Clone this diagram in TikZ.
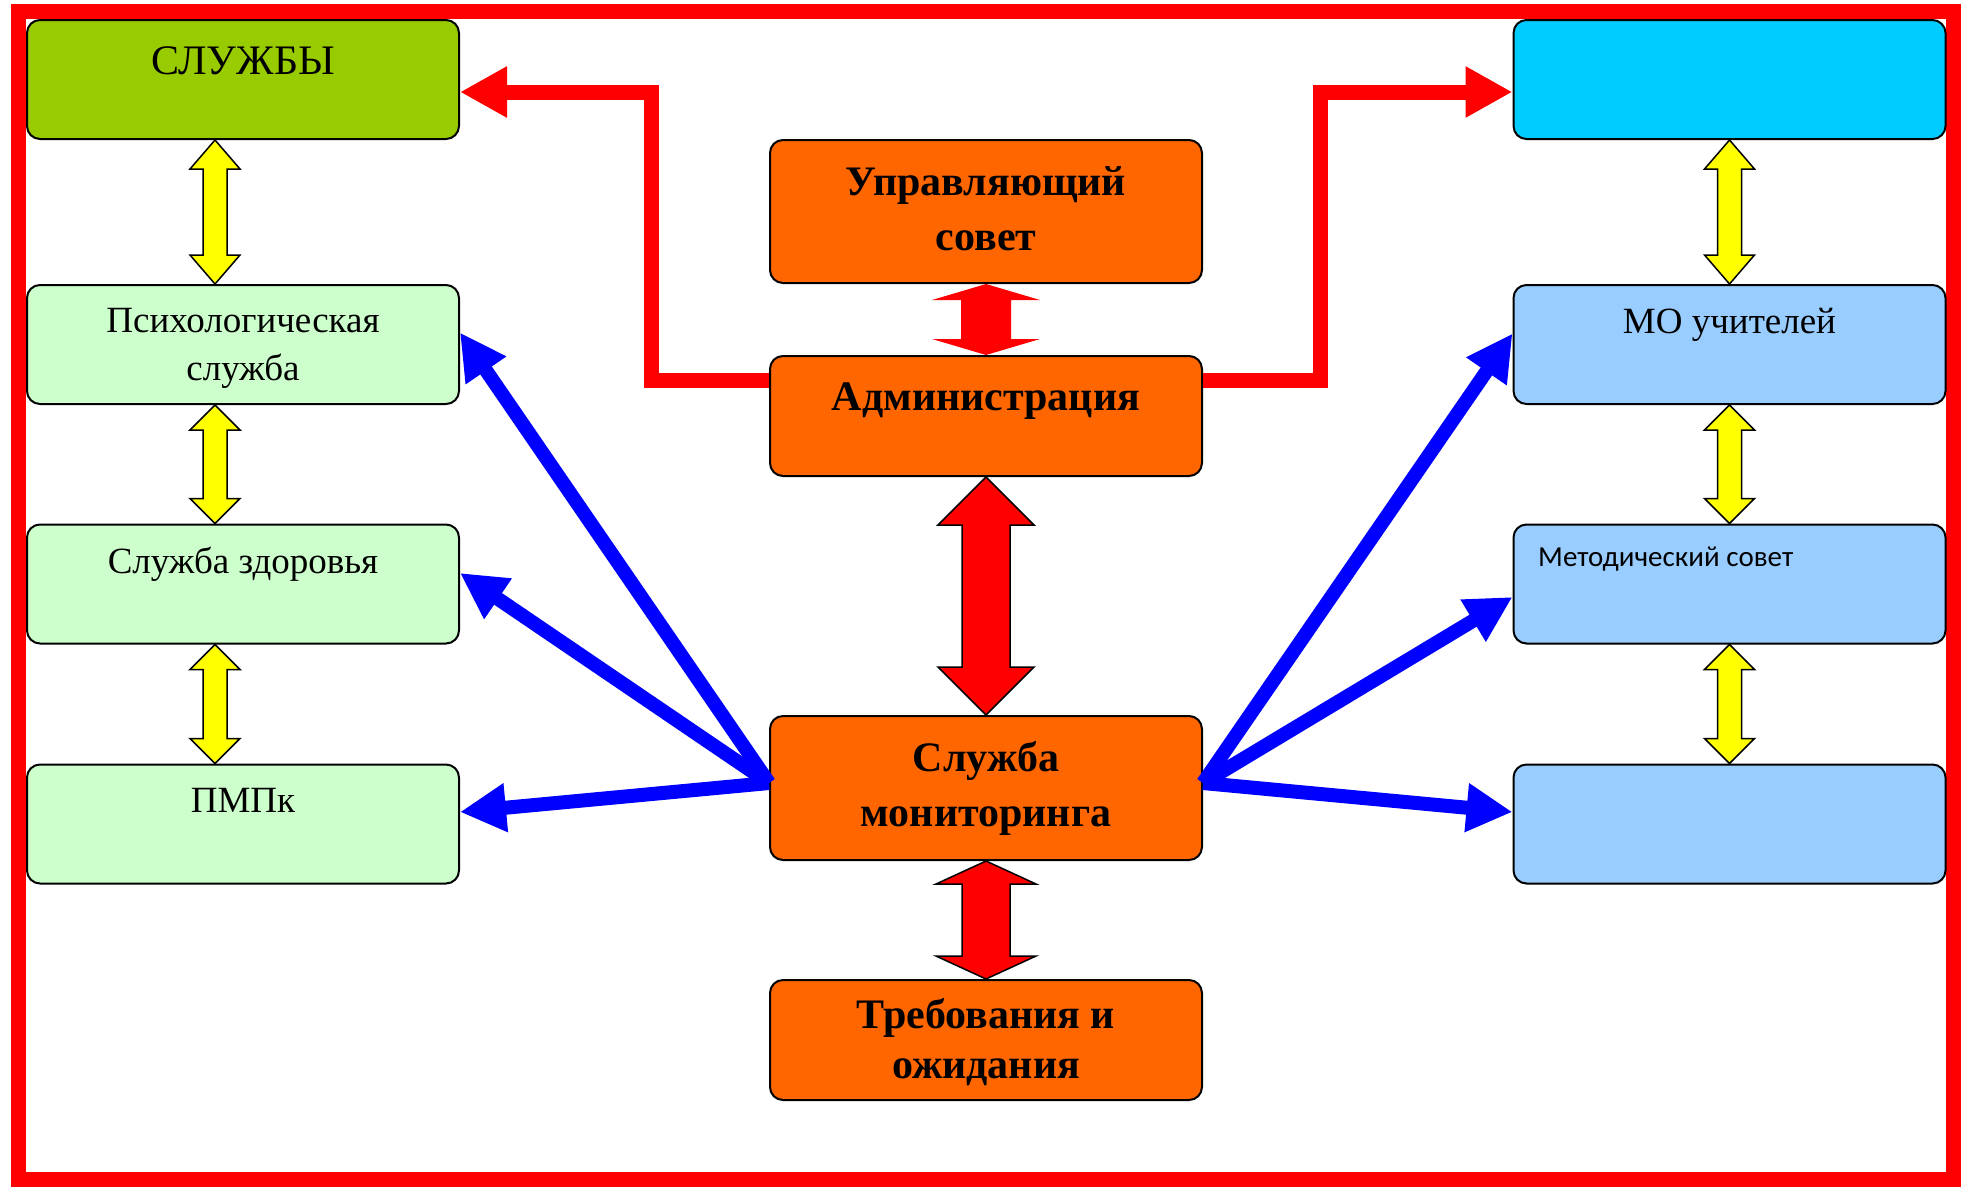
\documentclass[tikz,border=0pt]{standalone}
\usepackage{fontspec}
\setmainfont{Liberation Serif}
\newfontfamily\calibri{Carlito}
\usetikzlibrary{arrows.meta,calc}
\definecolor{cgreen}{HTML}{99CC00}
\definecolor{clgreen}{HTML}{CCFFCC}
\definecolor{ccyan}{HTML}{00CCFF}
\definecolor{clblue}{HTML}{99CCFF}
\definecolor{corange}{HTML}{FF6600}
\definecolor{cred}{HTML}{FF0000}
\definecolor{cblue}{HTML}{0000FF}
\definecolor{cyellow}{HTML}{FFFF00}
\newcommand\twolines[2]{\begin{tabular}[t]{@{}c@{}}#1\\#2\end{tabular}}
\newcommand\vdarrow[6]{%
 \path[#1] let \p1=#2, \p2=#3 in
 (\x1,\y1) -- (\x1+#4pt,\y1-#6pt) -- (\x1+#5pt,\y1-#6pt) -- (\x1+#5pt,\y2+#6pt) -- (\x1+#4pt,\y2+#6pt) -- (\x1,\y2) -- (\x1-#4pt,\y2+#6pt) -- (\x1-#5pt,\y2+#6pt) -- (\x1-#5pt,\y1-#6pt) -- (\x1-#4pt,\y1-#6pt) -- cycle;}
\tikzset{
 box/.style={draw=black, line width=2pt, rounded corners=13pt, minimum width=432pt, inner sep=0pt},
 sidebox/.style={box, minimum height=119pt},
 midbox/.style={box, fill=corange},
 reg/.style={inner sep=0pt, font=\fontsize{37}{48}\selectfont},
 big/.style={inner sep=0pt, font=\fontsize{42}{50}\selectfont},
 bld/.style={inner sep=0pt, font=\bfseries\fontsize{42}{55}\selectfont},
 outerframe/.style={draw=cred, line width=15pt},
 redconn/.style={draw=cred, line width=15pt, line join=miter, -{Triangle[length=47pt,width=48pt]}},
 bluearr/.style={draw=cblue, line width=14pt, -{Triangle[length=46pt,width=46pt]}},
 yel/.style={fill=cyellow, draw=black, line width=1.5pt},
 redA/.style={fill=cred},
 redB/.style={fill=cred, draw=black, line width=1.5pt}
}
\begin{document}
\begin{tikzpicture}[x=1pt,y=-1pt]
\useasboundingbox (0,0) rectangle (1961,1187);
\draw[outerframe] (18.5,11.5) rectangle (1953,1179.5);

% left column
\node[sidebox, fill=cgreen] (sl) at (243,79.5) {};
\node[sidebox, fill=clgreen] (ps) at (243,344.5) {};
\node[sidebox, fill=clgreen] (zd) at (243,584) {};
\node[sidebox, fill=clgreen] (pm) at (243,824) {};
% right column
\node[sidebox, fill=ccyan] (cy) at (1729.5,79.5) {};
\node[sidebox, fill=clblue] (mou) at (1729.5,344.5) {};
\node[sidebox, fill=clblue] (mt) at (1729.5,584) {};
\node[sidebox, fill=clblue] (em) at (1729.5,824) {};
% centre column
\node[midbox, minimum height=143pt] (upr) at (986,211.5) {};
\node[midbox, minimum height=120pt] (ad) at (986,416) {};
\node[midbox, minimum height=144pt] (mon) at (986,788) {};
\node[midbox, minimum height=120pt] (tr) at (986,1040) {};

% texts
\node[big, anchor=base] (slT) at (243,74) {СЛУЖБЫ};
\node[reg, anchor=base] (psT) at (243,332) {\twolines{Психологическая}{служба}};
\node[reg, anchor=base] (zdT) at (243,573) {Служба здоровья};
\node[reg, anchor=base] (pmT) at (243,812) {ПМПк};
\node[reg, anchor=base] (mouT) at (1729.5,333) {МО учителей};
\node[inner sep=0pt, anchor=base west, font=\calibri\fontsize{29}{35}\selectfont] (mtT) at (1538,566) {Методический совет};
\node[bld, anchor=base] (uprT) at (986,195) {\twolines{Управляющий}{совет}};
\node[bld, anchor=base] (adT) at (986,410) {Администрация};
\node[bld, anchor=base] (monT) at (986,771) {\twolines{Служба}{мониторинга}};
\node[bld, anchor=base, font=\bfseries\fontsize{42}{50}\selectfont] (trT) at (986,1028) {\twolines{Требования и}{ожидания}};

% yellow double arrows
\vdarrow{yel}{($(sl.south)+(-28,0)$)}{($(ps.north)+(-28,0)$)}{25}{12}{29}
\vdarrow{yel}{($(ps.south)+(-28,0)$)}{($(zd.north)+(-28,0)$)}{25}{12}{25}
\vdarrow{yel}{($(zd.south)+(-28,0)$)}{($(pm.north)+(-28,0)$)}{25}{12}{25}
\vdarrow{yel}{(cy.south)}{(mou.north)}{25}{12}{29}
\vdarrow{yel}{(mou.south)}{(mt.north)}{25}{12}{25}
\vdarrow{yel}{(mt.south)}{(em.north)}{25}{12}{25}

% red double arrows in the centre
\vdarrow{redA}{(upr.south)}{(ad.north)}{54}{25}{16}
\vdarrow{redB}{(ad.south)}{(mon.north)}{48}{24}{48}
\vdarrow{redB}{(mon.south)}{(tr.north)}{50}{24}{23}

% red elbow connectors
\draw[redconn] ($(ad.west)+(0,-36)$) -| ($(sl.east)+(191,12.5)$) -- ($(sl.east)+(0,12.5)$);
\draw[redconn] ($(ad.east)+(0,-36)$) -| ($(cy.west)+(-192,12.5)$) -- ($(cy.west)+(0,12.5)$);

% blue arrows
\draw[bluearr] ($(mon.west)+(0,-5)$) -- ($(ps.east)+(0,-12)$);
\draw[bluearr] ($(mon.west)+(0,-5)$) -- ($(zd.east)+(0,-11)$);
\draw[bluearr] ($(mon.west)+(0,-5)$) -- ($(pm.east)+(0,-12)$);
\draw[bluearr] ($(mon.east)+(0,-5)$) -- ($(mou.west)+(0,-11)$);
\draw[bluearr] ($(mon.east)+(0,-5)$) -- ($(mt.west)+(0,13)$);
\draw[bluearr] ($(mon.east)+(0,-5)$) -- ($(em.west)+(0,-12)$);
\end{tikzpicture}
\end{document}
